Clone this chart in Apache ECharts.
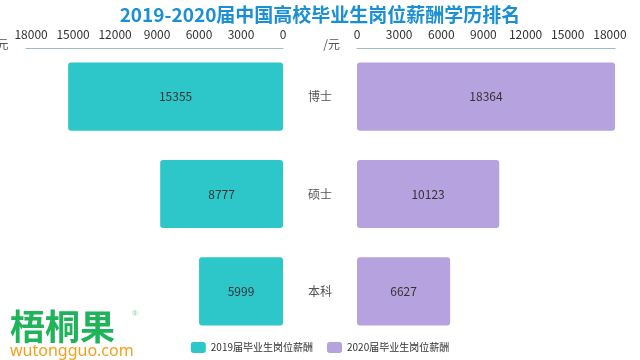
<!DOCTYPE html>
<html><head><meta charset="utf-8">
<script src="https://cdn.jsdelivr.net/npm/echarts@6/dist/echarts.min.js"></script>
<style>html,body{margin:0;padding:0;background:#fff}#c{width:640px;height:360px}</style>
</head><body><div id="c"></div>
<script>
const titleText = '2019-2020届中国高校毕业生岗位薪酬学历排名';
const categories = ['博士', '硕士', '本科'];
const seriesNames = ['2019届毕业生岗位薪酬', '2020届毕业生岗位薪酬'];
const values2019 = [15355, 8777, 5999];
const values2020 = [18364, 10123, 6627];
const axisUnit = '/元';

const chart = echarts.init(document.getElementById('c'), null, {renderer: 'canvas'});
const font = '"Microsoft YaHei","Noto Sans CJK SC",sans-serif';
const axisMax = Math.max(...values2019, ...values2020);
const xCommon = {
  type: 'value', position: 'top', min: 0, max: axisMax, interval: 3000,
  splitLine: {show: false},
  axisTick: {show: false},
  axisLine: {show: true, lineStyle: {color: '#9dbcc4', width: 1}},
  axisLabel: {color: '#333', fontSize: 12, fontFamily: font, margin: 8, showMaxLabel: false,
    formatter: v => String(v)},
  name: axisUnit,
  nameTextStyle: {color: '#555', fontSize: 12, fontFamily: font, verticalAlign: 'top', padding: [-10, 0, 0, 0]},
  nameGap: 17
};
chart.setOption({
  animation: false,
  title: {text: titleText, left: 'center', top: 0,
    textStyle: {color: '#1a8fd3', fontSize: 19, fontWeight: 'bold', fontFamily: font}},
  legend: {
    data: seriesNames, bottom: 2, left: 'center', itemWidth: 15, itemHeight: 11, itemGap: 14,
    icon: 'roundRect',
    textStyle: {color: '#333', fontSize: 10, fontFamily: font}
  },
  grid: [
    {left: 26, right: 357, top: 48, bottom: 20, outerBoundsMode: 'none', containLabel: false},
    {left: 357, right: 25, top: 48, bottom: 20, outerBoundsMode: 'none', containLabel: false}
  ],
  xAxis: [
    Object.assign({}, xCommon, {gridIndex: 0, inverse: true, nameLocation: 'end'}),
    Object.assign({}, xCommon, {gridIndex: 1, nameLocation: 'start'})
  ],
  yAxis: [
    {type: 'category', gridIndex: 0, data: categories, position: 'right', inverse: true,
      axisLine: {show: false}, axisTick: {show: false},
      axisLabel: {show: true, align: 'center', margin: 37, color: '#555', fontSize: 12, fontFamily: font}},
    {type: 'category', gridIndex: 1, data: categories, inverse: true,
      axisLine: {show: false}, axisTick: {show: false}, axisLabel: {show: false}}
  ],
  series: [
    {name: seriesNames[0], type: 'bar', xAxisIndex: 0, yAxisIndex: 0, data: values2019,
      barWidth: '70%', itemStyle: {color: '#2ec7c9', borderRadius: 3},
      label: {show: true, position: 'inside', color: '#333', fontSize: 12, fontFamily: font}},
    {name: seriesNames[1], type: 'bar', xAxisIndex: 1, yAxisIndex: 1, data: values2020,
      barWidth: '70%', itemStyle: {color: '#b6a2de', borderRadius: 3},
      label: {show: true, position: 'inside', color: '#333', fontSize: 12, fontFamily: font}}
  ],
  graphic: [
    {type: 'text', left: 10, top: 309, style: {text: '梧桐果', fill: '#1fb45a', font: 'bold 35px "Noto Sans CJK SC",sans-serif'}},
    {type: 'text', left: 132, top: 310, style: {text: '®', fill: '#7fcf9c', font: '8px sans-serif'}},
    {type: 'text', left: 10, top: 343, style: {text: 'wutongguo.com', fill: '#f5a01a', font: '16px "Noto Sans",sans-serif'}}
  ]
});
</script></body></html>
